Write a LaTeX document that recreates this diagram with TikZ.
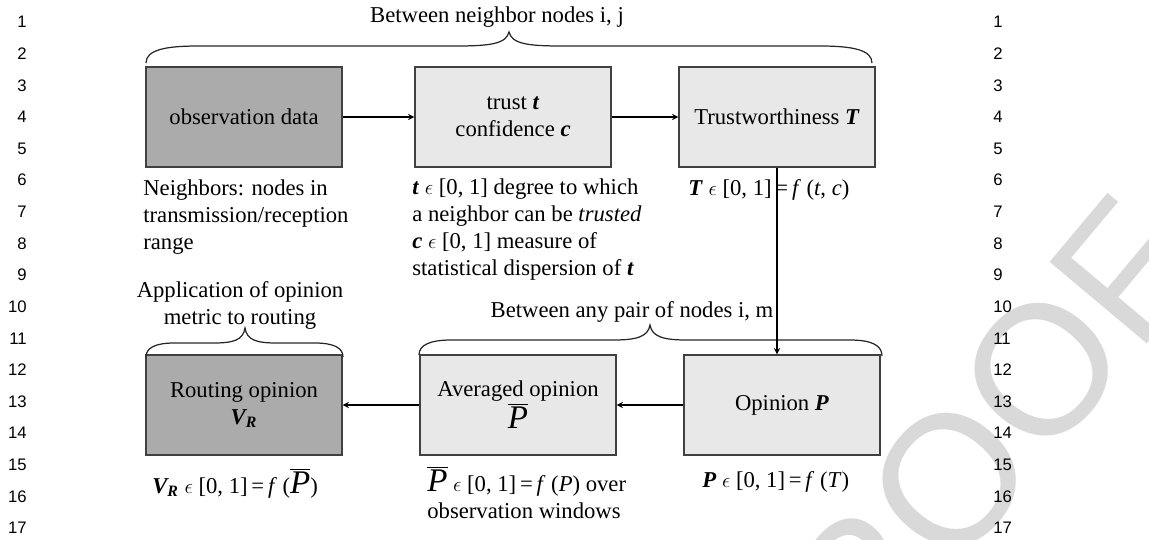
\documentclass[tikz,border=0pt]{standalone}
\usepackage{fontspec}
\setmainfont{Liberation Serif}
\newfontfamily\linenumfont{Liberation Sans}
\usetikzlibrary{arrows}
\newcommand{\bi}[1]{\textbf{\textit{#1}}}
\newcommand{\Pbar}{$\overline{\hbox{\fontsize{18.8}{18.8}\selectfont\itshape P}}$}
\begin{document}
\begin{tikzpicture}[x=0.02cm, y=-0.02cm, font=\fontsize{12.9}{15.4}\selectfont]
  \tikzstyle{box} = [rectangle, draw=black!75, line width=0.8pt, minimum width=3.92cm, minimum height=2cm, inner sep=0pt]
  \tikzstyle{darkbox} = [box, fill=black!33]
  \tikzstyle{lightbox} = [box, fill=black!9]
  \tikzstyle{note} = [inner sep=0pt, align=left]
  \tikzstyle{linenum} = [inner sep=0pt, font=\linenumfont\fontsize{9.5}{9.5}\selectfont]
  \tikzstyle{bracket} = [black!85, line width=0.7pt]
  \tikzstyle{arrow} = [line width=0.6pt,->,>=stealth]

  \useasboundingbox (0,0) rectangle (1149,539);

  % Watermark
  \node (proof) [rotate=50, text=black!15, font=\linenumfont\fontsize{105}{105}\selectfont] at (950,480) {PROOF};

  % Line numbers
  \foreach \k in {1,...,17} {
    \node (numl\k) [linenum, anchor=east] at (27,{22+31.63*(\k-1)}) {\k};
    \node (numr\k) [linenum, anchor=west] at (993,{22+31.63*(\k-1)}) {\k};
  }

  % Boxes
  \node (obs) [darkbox] at (244,117) {observation data};
  \node (trust) [lightbox, align=center] at (513,117) {trust \bi{t}\\confidence \bi{c}};
  \node (trw) [lightbox] at (777,117) {Trustworthiness \bi{T}};
  \node (route) [darkbox, align=center] at (244,405) {Routing opinion\\\bi{V\textsubscript{R}}};
  \node (avg) [lightbox, align=center] at (518,405) {Averaged opinion\\\Pbar};
  \node (opin) [lightbox] at (782,405) {Opinion \bi{P}};

  % Notes below the boxes
  \node (obsnote) [note, anchor=north west] at (143,179) {Neighbors: nodes in\\transmission/reception\\range};
  \node (trustnote) [note, anchor=north west] at (412,178) {\bi{t} $\epsilon$ [0, 1] degree to which\\a neighbor can be \textit{trusted}\\\bi{c} $\epsilon$ [0, 1] measure of\\statistical dispersion of \bi{t}};
  \node (trwnote) [inner sep=0pt, anchor=base west] at (688,195) {\bi{T} $\epsilon$ [0, 1]\,=\,\textit{f} (\textit{t}, \textit{c})};
  \node (routenote) [inner sep=0pt, anchor=base west] at (152,493) {\bi{V\textsubscript{R}} $\epsilon$ [0, 1]\,=\,\textit{f} (\Pbar)};
  \node (avgnote) [note, anchor=north west] at (427,466) {\Pbar\ $\epsilon$ [0, 1]\,=\,\textit{f} (\textit{P}) over\\observation windows};
  \node (opinnote) [inner sep=0pt, anchor=base west] at (702,487) {\bi{P} $\epsilon$ [0, 1]\,=\,\textit{f} (\textit{T})};

  % Braces and their labels
  \node (toplabel) at (497,17) {Between neighbor nodes i, j};
  \draw[bracket] (146,63) .. controls (146,50) and (165,46) .. (198,46) -- (455,46)
    .. controls (490,46) and (506,44) .. (509,32) .. controls (512,44) and (528,46) .. (563,46)
    -- (820,46) .. controls (853,46) and (872,50) .. (872,63);
  \node (midlabel) at (632,312) {Between any pair of nodes i, m};
  \draw[bracket] (419,355) .. controls (419,345) and (430,340) .. (451,340) -- (613,340)
    .. controls (636,340) and (648,337) .. (650,325) .. controls (652,337) and (664,340) .. (687,340)
    -- (850,340) .. controls (871,340) and (882,345) .. (882,356);
  \node (applabel) [align=center] at (240,305) {Application of opinion\\metric to routing};
  \draw[bracket] (146,357) .. controls (146,348) and (155,343) .. (174,343) -- (213,343)
    .. controls (234,343) and (243,340) .. (245,328) .. controls (247,340) and (256,343) .. (277,343)
    -- (315,343) .. controls (334,343) and (343,348) .. (343,357);

  % Arrows
  \draw[arrow] (obs) -- (trust);
  \draw[arrow] (trust) -- (trw);
  \draw[arrow] (trw) -- (trw |- opin.north);
  \draw[arrow] (opin) -- (avg);
  \draw[arrow] (avg) -- (route);

\end{tikzpicture}
\end{document}
